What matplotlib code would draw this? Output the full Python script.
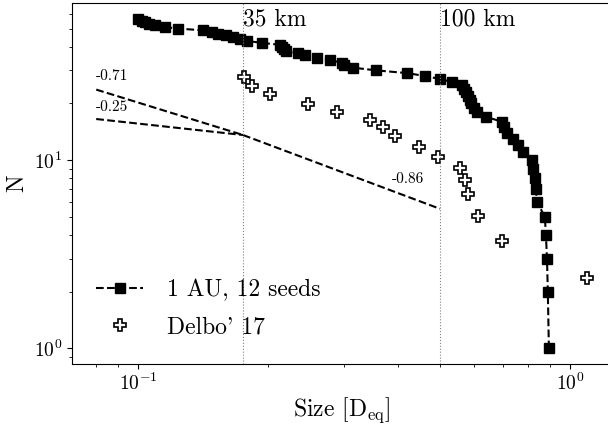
import numpy as np
from matplotlib import pyplot as plt
from matplotlib.ticker import NullFormatter

plt.rcParams['font.family'] = 'serif'
plt.rcParams['font.serif'] = ['cmr10', 'DejaVu Serif']
plt.rcParams['mathtext.fontset'] = 'cm'
plt.rcParams['axes.unicode_minus'] = False
plt.rcParams['axes.formatter.use_mathtext'] = True

# cumulative size distribution, 1 AU runs (12 seeds), size in D_eq
sim_size = [0.894, 0.889, 0.885, 0.880, 0.875, 0.839, 0.834, 0.830, 0.821, 0.817,
            0.778, 0.758, 0.738, 0.715, 0.703, 0.696, 0.639, 0.609, 0.600, 0.590,
            0.587, 0.581, 0.574, 0.568, 0.562, 0.533, 0.500, 0.462, 0.420, 0.356,
            0.315, 0.300, 0.296, 0.278, 0.260, 0.2435, 0.2346, 0.220, 0.218, 0.2154,
            0.2131, 0.1936, 0.1787, 0.1722, 0.166, 0.160, 0.1532, 0.1483, 0.1414, 0.1238,
            0.1155, 0.1095, 0.106, 0.1038, 0.1022, 0.100]
sim_n = list(range(1, len(sim_size) + 1))

# Delbo' et al. 2017 family
delbo_size = [0.176, 0.1836, 0.202, 0.2474, 0.2888, 0.3444, 0.369, 0.3935, 0.447, 0.4948,
              0.556, 0.5713, 0.581, 0.6124, 0.696, 1.095]
delbo_n = [27.6, 24.8, 22.4, 19.9, 18.0, 16.3, 15.0, 13.4, 11.7, 10.4,
           9.06, 7.83, 6.6, 5.04, 3.71, 2.36]

# power-law slopes and the size ranges they cover
slopes = [-0.71, -0.25, -0.86]
slope_from = [0.08, 0.08, 0.175]
slope_to = [0.175, 0.175, 0.5]
slope_label_pos = [(0.080, 28.0), (0.080, 19.1), (0.387, 7.92)]
knee_size = 0.175   # 35 km
knee_n = 13.6

# 35 km and 100 km for D_eq = 200 km
marks = [0.175, 0.5]
mark_labels = ['35 km', '100 km']

fig = plt.figure(figsize=(6.08, 4.25), dpi=100)
ax = fig.add_axes([0.1184, 0.1435, 0.888, 0.8494])

ax.plot(sim_size, sim_n, ls='--', c='black', lw=1.5, marker='s', ms=6.5,
        label='1 AU, 12 seeds')
ax.plot(delbo_size, delbo_n, ls='none', marker='P', ms=9, mfc='white',
        mec='black', mew=1.2, label="Delbo' 17")

for s, x0, x1, (tx, ty) in zip(slopes, slope_from, slope_to, slope_label_pos):
    xs = np.array([x0, x1])
    ys = knee_n * (xs / knee_size) ** s
    ax.plot(xs, ys, ls='--', c='black', lw=1.5)
    ax.text(tx, ty, '%.2f' % s, fontsize=11, va='center', ha='left')

for m, lab in zip(marks, mark_labels):
    ax.axvline(m, c='gray', ls=':', lw=0.8)
    ax.text(m, 0.985, lab, transform=ax.get_xaxis_transform(), fontsize=17,
            ha='left', va='top')

ax.set_xscale('log')
ax.set_yscale('log')
ax.set_xlim(0.0703, 1.251)
ax.set_ylim(0.825, 68.4)
ax.xaxis.set_minor_formatter(NullFormatter())
ax.yaxis.set_minor_formatter(NullFormatter())
ax.tick_params(axis='both', which='major', labelsize=14)
ax.tick_params(axis='x', which='major', pad=2.5)

ax.set_xlabel(r'Size [D$_{\mathrm{eq}}$]', fontsize=17, labelpad=1)
ax.set_ylabel('N', fontsize=17)
ax.legend(loc='lower left', bbox_to_anchor=(0.005, 0.012), frameon=False,
          fontsize=17, labelspacing=0.62, handletextpad=1.0)

fig.savefig('out.png', dpi=100)
